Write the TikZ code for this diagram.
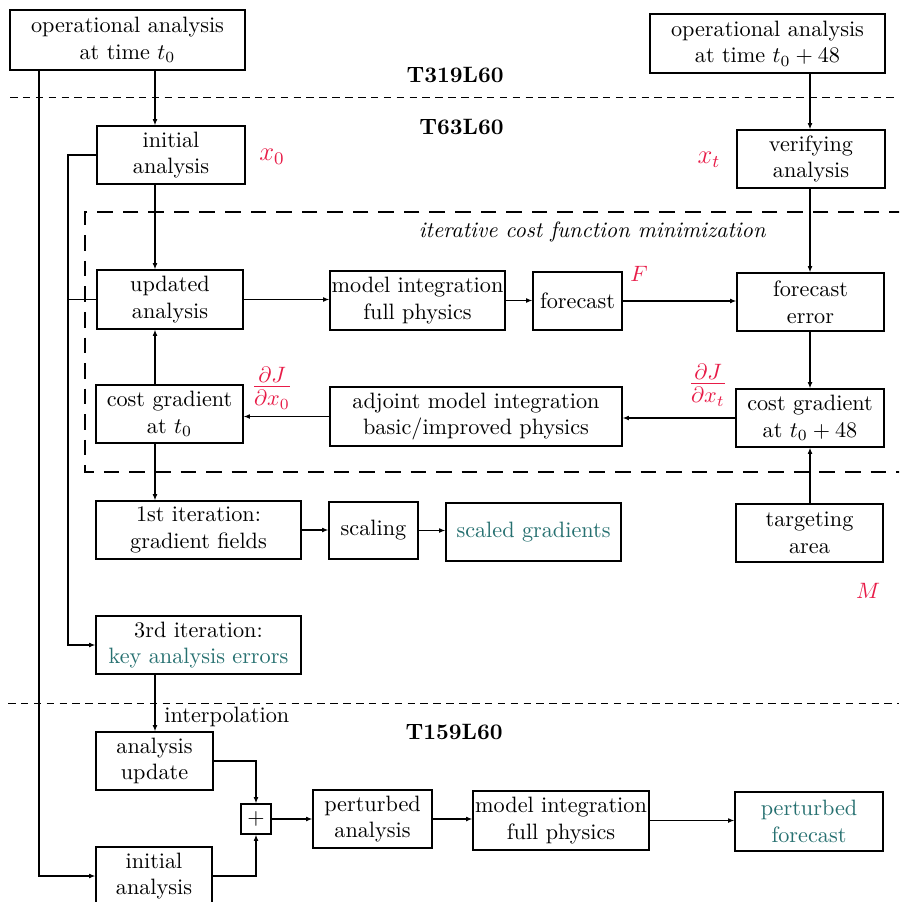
\documentclass[tikz,border=0pt]{standalone}
\usetikzlibrary{arrows.meta}
\definecolor{lblred}{RGB}{232,28,72}
\definecolor{tealtxt}{RGB}{38,112,112}
\begin{document}
\begin{tikzpicture}[x=0.45pt,y=-0.45pt,
  bx/.style 2 args={draw, line width=0.65pt, minimum width=#1*0.45pt, minimum height=#2*0.45pt, inner sep=0pt, align=center},
  arr/.style={-{Latex[length=2.8pt,width=2.2pt]}, line width=0.5pt},
  ln/.style={line width=0.5pt},
  sepline/.style={dash pattern=on 3.4pt off 2.4pt, line width=0.4pt},
  itbox/.style={dash pattern=on 7pt off 4.5pt, line width=0.6pt},
  redlbl/.style={text=lblred, inner sep=0pt},
  tier/.style={anchor=east, font=\bfseries, inner sep=0pt}
]
\useasboundingbox (0,0) rectangle (899,902);
\clip (0,0) rectangle (899,902);
\fill[white] (0,0) rectangle (899,902);

% separators
\draw[sepline] (10,97) -- (899,97);
\draw[sepline] (8,703) -- (899,703);
\draw[itbox] (905,212) -- (85,212) -- (85,472) -- (905,472);

% tier labels
\node[tier] (t319) at (504,75) {T319L60};
\node[tier] (t63) at (504,127) {T63L60};
\node[tier] (t159) at (503,732) {T159L60};
\node[anchor=east, font=\itshape, inner sep=0pt] (itlbl) at (766,232) {iterative cost function minimization};

% boxes
\node[bx={235}{60}] (op0) at (127.5,40) {operational analysis\\at time $t_0$};
\node[bx={235}{59}] (op48) at (767.5,43.5) {operational analysis\\at time $t_0+48$};
\node[bx={148}{58}] (init) at (171,155) {initial\\analysis};
\node[bx={148}{58}] (verif) at (811,159) {verifying\\analysis};
\node[bx={146}{59}] (upd) at (170,299.5) {updated\\analysis};
\node[bx={175}{59}] (mod1) at (417.5,300.5) {model integration\\full physics};
\node[bx={89}{58}] (fc) at (577.5,301) {forecast};
\node[bx={147}{58}] (fce) at (810.5,302) {forecast\\error};
\node[bx={147}{58}] (cg0) at (169.5,414) {cost gradient\\at $t_0$};
\node[bx={292}{59}] (adj) at (476,416.5) {adjoint model integration\\basic/improved physics};
\node[bx={148}{58}] (cg48) at (810,418) {cost gradient\\at $t_0+48$};
\node[bx={205}{58}] (it1) at (198.5,530) {1st iteration:\\gradient fields};
\node[bx={89}{57}] (scl) at (373.5,530.5) {scaling};
\node[bx={175}{58}] (sg) at (533.5,532) {\textcolor{tealtxt}{scaled gradients}};
\node[bx={147}{58}] (tgt) at (809.5,533) {targeting\\area};
\node[bx={205}{58}] (it3) at (198.5,645) {3rd iteration:\\\textcolor{tealtxt}{key analysis errors}};
\node[bx={117}{58}] (au) at (154.5,761) {analysis\\update};
\node[bx={30}{30}] (plus) at (256,819) {$+$};
\node[bx={119}{58}] (pa) at (372.5,819) {perturbed\\analysis};
\node[bx={176}{59}] (mod2) at (561,820.5) {model integration\\full physics};
\node[bx={148}{59}, text=tealtxt] (pf) at (809,821.5) {perturbed\\forecast};
\node[bx={116}{58}] (init2) at (154,876) {initial\\analysis};

% red labels
\node[redlbl, font=\large] (lx0) at (272,157) {$x_0$};
\node[redlbl, font=\large] (lxt) at (709,160) {$x_t$};
\node[redlbl] (lF) at (639,274) {$F$};
\node[redlbl] (lM) at (868,591) {$M$};
\node[redlbl, font=\Large] (ldx0) at (272,388) {$\frac{\partial J}{\partial x_0}$};
\node[redlbl, font=\Large] (ldxt) at (708,385) {$\frac{\partial J}{\partial x_t}$};
\node[anchor=west, inner sep=0pt] (interp) at (164,717) {interpolation};

% column coordinates
\coordinate (cL) at (39,0);
\coordinate (cM) at (68,0);
\coordinate (cA) at (155,0);
\coordinate (cR) at (810,0);

% connectors
\draw[arr] (op0.south -| cA) -- (init.north -| cA);
\draw[arr] (op0.south -| cL) |- (init2.west);
\draw[arr] (init.west) -- (init.west -| cM) |- (it3.west);
\draw[ln] (upd.west) -- (upd.west -| cM);
\draw[arr] (init.south -| cA) -- (upd.north -| cA);
\draw[arr] (upd.east) -- (upd.east -| mod1.west);
\draw[arr] (mod1.east) -- (mod1.east -| fc.west);
\draw[arr] (fc.east) -- (fc.east -| fce.west);
\draw[arr] (op48.south -| cR) -- (verif.north -| cR);
\draw[arr] (verif.south -| cR) -- (fce.north -| cR);
\draw[arr] (fce.south -| cR) -- (cg48.north -| cR);
\draw[arr] (cg48.west) -- (cg48.west -| adj.east);
\draw[arr] (adj.west) -- (adj.west -| cg0.east);
\draw[arr] (cg0.north -| cA) -- (upd.south -| cA);
\draw[arr] (cg0.south -| cA) -- (it1.north -| cA);
\draw[arr] (it1.east) -- (it1.east -| scl.west);
\draw[arr] (scl.east) -- (scl.east -| sg.west);
\draw[arr] (tgt.north -| cR) -- (cg48.south -| cR);
\draw[arr] (it3.south -| cA) -- (au.north -| cA);
\draw[arr] (au.east) -| (plus.north);
\draw[arr] (init2.east) -| (plus.south);
\draw[arr] (plus.east) -- (pa.west);
\draw[arr] (pa.east) -- (pa.east -| mod2.west);
\draw[arr] (mod2.east) -- (mod2.east -| pf.west);
\end{tikzpicture}
\end{document}
